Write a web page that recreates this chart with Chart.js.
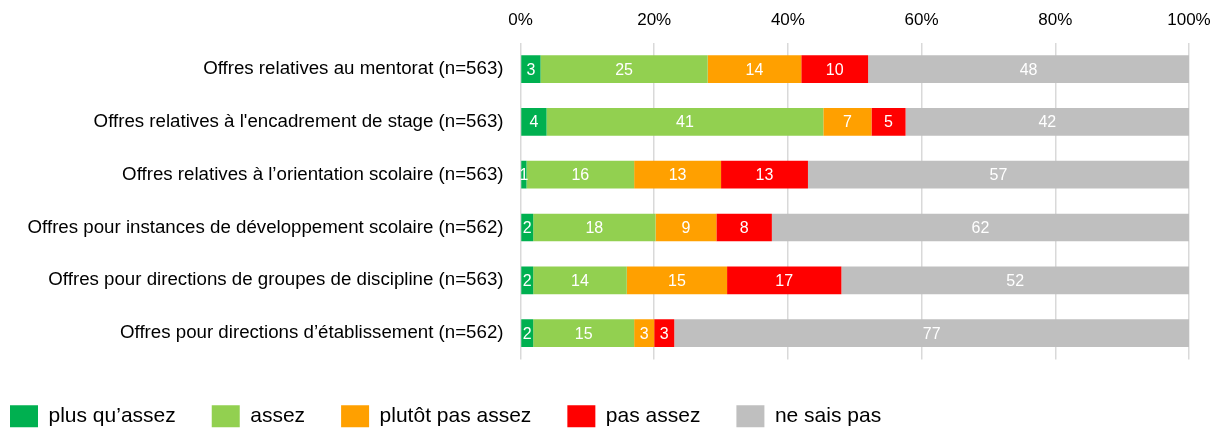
<!DOCTYPE html>
<html>
<head>
<meta charset="utf-8">
<script src="https://cdn.jsdelivr.net/npm/chart.js@4/dist/chart.umd.min.js"></script>
<style>
  body { margin: 0; background: #fff; }
  #wrap { width: 1212px; height: 428px; }
</style>
</head>
<body>
<div id="wrap"><canvas id="chart"></canvas></div>
<script>
// categories (top to bottom)
const categories = [
    'Offres relatives au mentorat (n=563)',
    "Offres relatives à l'encadrement de stage (n=563)",
    'Offres relatives à l’orientation scolaire (n=563)',
    'Offres pour instances de développement scolaire (n=562)',
    'Offres pour directions de groupes de discipline (n=563)',
    'Offres pour directions d’établissement (n=562)'
];

// series values in percent
const plusQuAssez    = [3.0, 3.9, 0.9, 1.9, 1.9, 1.9];
const assez          = [25.0, 41.4, 16.1, 18.3, 14.0, 15.1];
const plutotPasAssez = [14.0, 7.2, 13.0, 9.1, 15.0, 3.0];
const pasAssez       = [10.0, 5.1, 13.0, 8.3, 17.1, 3.0];
const neSaisPas      = [48.0, 42.4, 57.0, 62.4, 52.0, 77.0];

const seriesNames = ['plus qu’assez', 'assez', 'plutôt pas assez', 'pas assez', 'ne sais pas'];
const seriesColors = ['#00B050', '#92D050', '#FFA000', '#FF0000', '#BFBFBF'];

// x axis ticks
const xTickValues = [0, 20, 40, 60, 80, 100];
const xTickLabels = ['0%', '20%', '40%', '60%', '80%', '100%'];

const FONT = "'Liberation Sans', Arial, sans-serif";

// white value labels centered in each segment
const segmentLabels = {
    id: 'segmentLabels',
    afterDatasetsDraw(chart) {
        const ctx = chart.ctx;
        ctx.save();
        ctx.fillStyle = '#ffffff';
        ctx.font = '16px ' + FONT;
        ctx.textAlign = 'center';
        ctx.textBaseline = 'middle';
        chart.data.datasets.forEach((ds, i) => {
            const meta = chart.getDatasetMeta(i);
            meta.data.forEach((bar, j) => {
                const { x, base, y } = bar.getProps(['x', 'base', 'y'], true);
                ctx.fillText(String(Math.round(ds.data[j])), (x + base) / 2, y + 1);
            });
        });
        ctx.restore();
    }
};

const values = [plusQuAssez, assez, plutotPasAssez, pasAssez, neSaisPas];

new Chart(document.getElementById('chart'), {
    type: 'bar',
    data: {
        labels: categories,
        datasets: values.map((data, i) => ({
            label: seriesNames[i],
            data: data,
            backgroundColor: seriesColors[i],
            borderWidth: 0,
            barPercentage: 0.525,
            categoryPercentage: 1
        }))
    },
    options: {
        indexAxis: 'y',
        responsive: true,
        maintainAspectRatio: false,
        animation: false,
        layout: {
            padding: { left: -26, right: 23, top: 0, bottom: -9.3 }
        },
        plugins: {
            tooltip: { enabled: false },
            legend: {
                position: 'bottom',
                align: 'start',
                labels: {
                    boxWidth: 28,
                    boxHeight: 22,
                    padding: 36,
                    color: '#000',
                    font: { family: FONT, size: 21 }
                }
            }
        },
        scales: {
            x: {
                position: 'top',
                stacked: true,
                min: 0,
                max: 100,
                afterFit(scale) {
                    scale.height = 42.7;
                    scale.paddingLeft = 0;
                    scale.paddingRight = 0;
                },
                afterBuildTicks(scale) {
                    scale.ticks = xTickValues.map(v => ({ value: v }));
                },
                grid: { color: '#d9d9d9', lineWidth: 1.5, drawTicks: false },
                border: { display: false },
                ticks: {
                    padding: 12.5,
                    color: '#000',
                    font: { family: FONT, size: 17 },
                    callback: (v) => xTickLabels[xTickValues.indexOf(v)]
                }
            },
            // spacer between bars and legend
            x2: {
                position: 'bottom',
                display: true,
                afterFit(scale) {
                    scale.height = 9.8;
                    scale.paddingLeft = 0;
                    scale.paddingRight = 0;
                },
                grid: { display: false, drawTicks: false },
                border: { display: false },
                ticks: { display: false }
            },
            y: {
                stacked: true,
                afterFit(scale) { scale.width = 546.5; },
                grid: { display: false, drawTicks: false },
                border: { display: false },
                ticks: {
                    padding: 17,
                    color: '#000',
                    font: { family: FONT, size: 18.7 }
                }
            }
        }
    },
    plugins: [segmentLabels]
});
</script>
</body>
</html>
